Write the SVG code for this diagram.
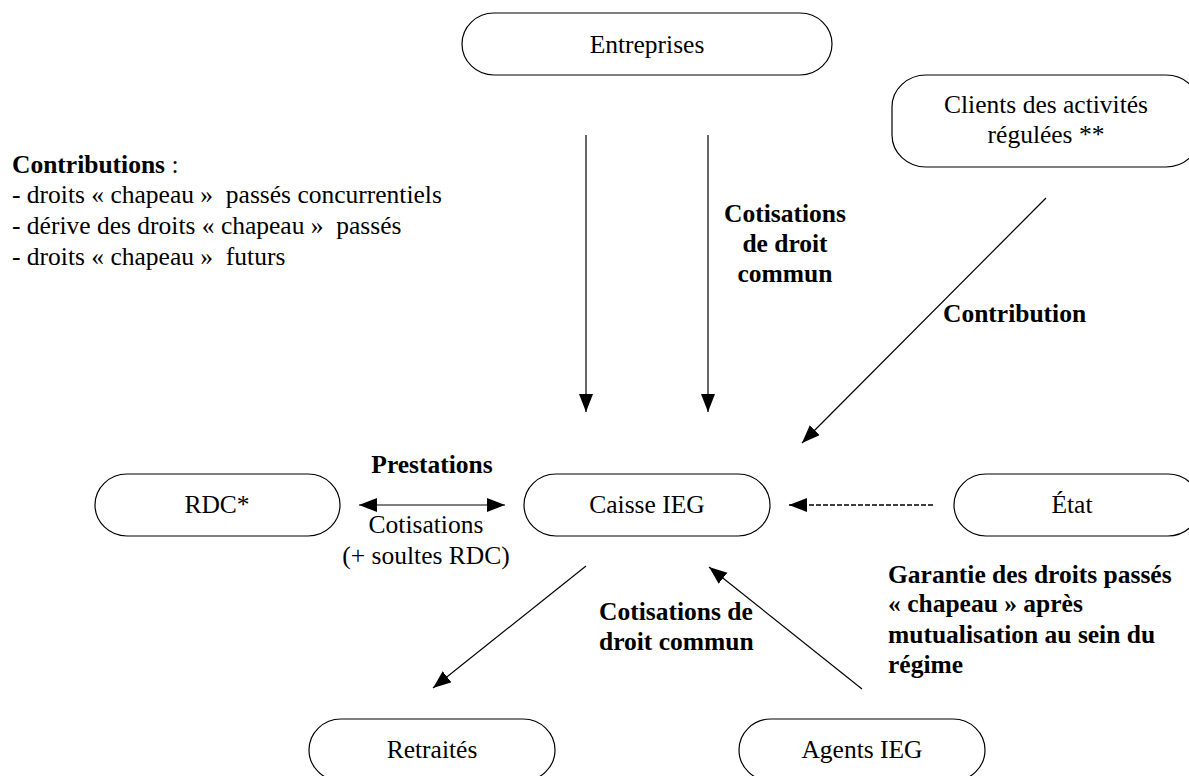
<svg xmlns="http://www.w3.org/2000/svg" width="1189" height="776" viewBox="0 0 1189 776">
<style>
.box{fill:#fff;stroke:#000;stroke-width:1.2}
.t{font-family:'Liberation Serif','Times New Roman',serif;font-size:25.5px;fill:#000}
.c{text-anchor:middle}
.b{font-weight:bold}
.ln{stroke:#000;stroke-width:1.2;fill:none}
.dash{stroke-width:1.6;stroke-dasharray:5 2}
</style>
<defs>
<marker id="ah" markerUnits="userSpaceOnUse" markerWidth="19" markerHeight="15" refX="18" refY="7" orient="auto-start-reverse">
<path d="M0,0 L18,7 L0,14 Z" fill="#000"/>
</marker>
</defs>
<rect width="1189" height="776" fill="#fff"/>

<g id="connectors">
<line class="ln" x1="586" y1="135" x2="586" y2="412" marker-end="url(#ah)"/>
<line class="ln" x1="708" y1="135" x2="708" y2="412" marker-end="url(#ah)"/>
<line class="ln" x1="1046" y1="198" x2="802" y2="443" marker-end="url(#ah)"/>
<line class="ln" x1="359" y1="505" x2="505" y2="505" marker-start="url(#ah)" marker-end="url(#ah)"/>
<line class="ln dash" x1="933" y1="505" x2="789" y2="505" marker-end="url(#ah)"/>
<line class="ln" x1="586" y1="566" x2="433" y2="688" marker-end="url(#ah)"/>
<line class="ln" x1="862" y1="689" x2="709" y2="567" marker-end="url(#ah)"/>
</g>

<g id="labels">
<text class="t" x="12" y="173" xml:space="preserve"><tspan font-weight="bold">Contributions</tspan> :</text>
<text class="t" x="12" y="203" xml:space="preserve">- droits « chapeau »  passés concurrentiels</text>
<text class="t" x="12" y="234" xml:space="preserve">- dérive des droits « chapeau »  passés</text>
<text class="t" x="12" y="265" xml:space="preserve">- droits « chapeau »  futurs</text>
<text class="t b c" x="785" y="222">Cotisations</text>
<text class="t b c" x="785" y="252">de droit</text>
<text class="t b c" x="785" y="282">commun</text>
<text class="t b" x="943" y="322">Contribution</text>
<text class="t b c" x="432" y="473">Prestations</text>
<text class="t c" x="426" y="533">Cotisations</text>
<text class="t c" x="426" y="564">(+ soultes RDC)</text>
<text class="t b" x="599" y="620">Cotisations de</text>
<text class="t b" x="599" y="650">droit commun</text>
<text class="t b" x="888" y="583">Garantie des droits passés</text>
<text class="t b" x="888" y="612">« chapeau » après</text>
<text class="t b" x="888" y="643">mutualisation au sein du</text>
<text class="t b" x="888" y="673">régime</text>
</g>

<g id="entreprises">
<rect class="box" x="462" y="13" width="370" height="62" rx="32" ry="31"/>
<text class="t c" x="647" y="53">Entreprises</text>
</g>
<g id="clients">
<rect class="box" x="892" y="75" width="308" height="92" rx="34" ry="32"/>
<text class="t c" x="1046" y="113">Clients des activités</text>
<text class="t c" x="1046" y="143">régulées **</text>
</g>
<g id="rdc">
<rect class="box" x="95" y="474" width="245" height="62" rx="32" ry="31"/>
<text class="t c" x="217" y="513">RDC*</text>
</g>
<g id="caisse">
<rect class="box" x="524" y="474" width="246" height="62" rx="32" ry="31"/>
<text class="t c" x="647" y="513">Caisse IEG</text>
</g>
<g id="etat">
<rect class="box" x="954" y="474" width="246" height="62" rx="32" ry="31"/>
<text class="t c" x="1072" y="513">État</text>
</g>
<g id="retraites">
<rect class="box" x="309" y="719" width="246" height="62" rx="32" ry="31"/>
<text class="t c" x="432" y="758">Retraités</text>
</g>
<g id="agents">
<rect class="box" x="739" y="719" width="246" height="62" rx="32" ry="31"/>
<text class="t c" x="862" y="758">Agents IEG</text>
</g>
</svg>
